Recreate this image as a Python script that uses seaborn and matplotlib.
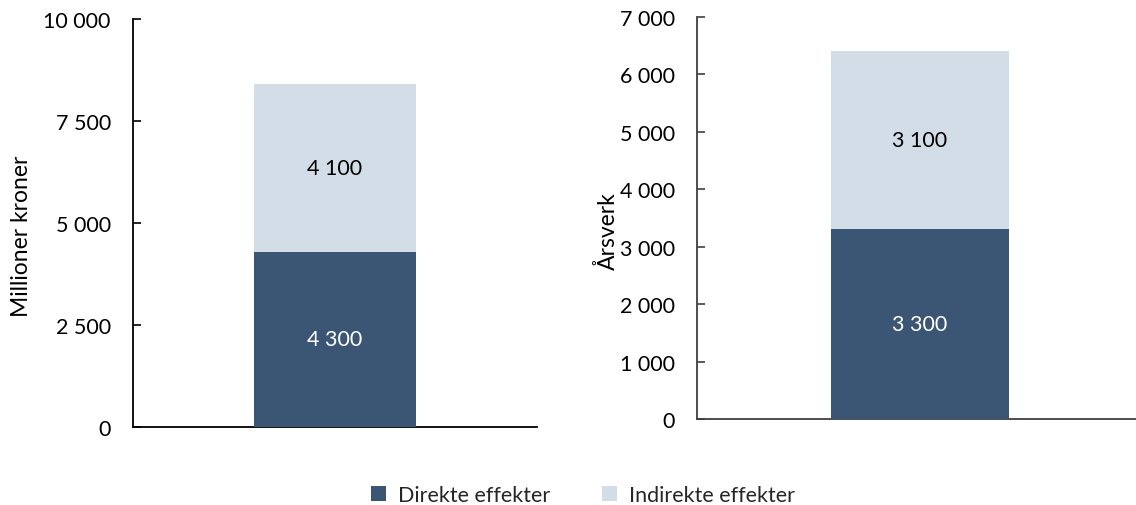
import matplotlib
matplotlib.use("Agg")
import matplotlib.pyplot as plt
from matplotlib.patches import Patch
import seaborn as sns
import pandas as pd

# Effects: value added (million NOK) and employment (man-years)
series = ["Direkte effekter", "Indirekte effekter"]
kroner_values = [4300, 4100]
aarsverk_values = [3300, 3100]
kroner_ticks = [0, 2500, 5000, 7500, 10000]
aarsverk_ticks = [0, 1000, 2000, 3000, 4000, 5000, 6000, 7000]

dark = "#3B5674"
light = "#D3DDE8"

sns.set_theme(style="white")
plt.rcParams["font.family"] = ["Lato", "DejaVu Sans"]


def fmt(v):
    return f"{v:,.0f}".replace(",", " ")


def stacked(ax, values, ticks, ylabel, axis_color):
    direct, indirect = values
    df = pd.DataFrame({"x": [""], "total": [direct + indirect], "direct": [direct]})
    sns.barplot(data=df, x="x", y="total", color=light, width=0.8,
                saturation=1, linewidth=0, ax=ax, zorder=2)
    sns.barplot(data=df, x="x", y="direct", color=dark, width=0.8,
                saturation=1, linewidth=0, ax=ax, zorder=3)
    ax.set_xlim(-1, 1)
    ax.set_ylim(0, ticks[-1])
    ax.set_yticks(ticks)
    ax.set_yticklabels([fmt(t) for t in ticks], fontsize=15.5, color="#000000")
    ax.set_xticks([])
    ax.set_xlabel("")
    ax.set_ylabel(ylabel, fontsize=16.5, color="#000000")
    for side in ("top", "right"):
        ax.spines[side].set_visible(False)
    for side in ("left", "bottom"):
        ax.spines[side].set_color(axis_color)
        ax.spines[side].set_linewidth(1.3)
    ax.tick_params(axis="y", direction="in", length=6, width=1.2,
                   color=axis_color, left=True, pad=16)
    ax.text(0, direct / 2, fmt(direct), ha="center", va="center",
            fontsize=15.5, color="white", zorder=5)
    ax.text(0, direct + indirect / 2, fmt(indirect), ha="center",
            va="center", fontsize=15.5, color="black", zorder=5)


fig = plt.figure(figsize=(11.36, 5.06), dpi=100)
W, H = 1136, 506
ax1 = fig.add_axes([133 / W, 1 - 428 / H, (537 - 133) / W, (428 - 20) / H])
ax2 = fig.add_axes([697 / W, 1 - 420 / H, (1142 - 697) / W, (420 - 18) / H])

stacked(ax1, kroner_values, kroner_ticks, "Millioner kroner", "#000000")
stacked(ax2, aarsverk_values, aarsverk_ticks, "Årsverk", "#404040")
ax1.yaxis.set_label_coords(-0.25, 0.47)
ax2.yaxis.set_label_coords(-0.175, 0.47)

handles = [Patch(facecolor=dark, edgecolor="none"),
           Patch(facecolor=light, edgecolor="none")]
fig.legend(handles, series, loc="center", bbox_to_anchor=(583 / W, 1 - 496 / H),
           ncol=2, frameon=False, fontsize=15.5, handlelength=0.7,
           handleheight=0.7, handletextpad=0.55, columnspacing=2.4)

fig.savefig("out.png", dpi=100)
